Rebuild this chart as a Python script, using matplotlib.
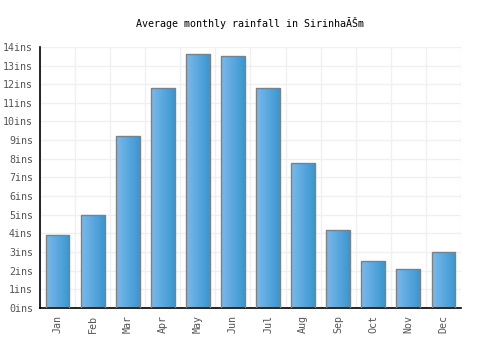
import matplotlib
matplotlib.use("Agg")
import matplotlib.pyplot as plt
import numpy as np
from matplotlib.colors import LinearSegmentedColormap

months = ["Jan", "Feb", "Mar", "Apr", "May", "Jun", "Jul", "Aug", "Sep", "Oct", "Nov", "Dec"]
rainfall = [3.9, 5.0, 9.2, 11.8, 13.6, 13.5, 11.8, 7.8, 4.2, 2.5, 2.1, 3.0]
yticks = list(range(0, 15))
ytick_labels = [f"{v}ins" for v in yticks]
title = "Average monthly rainfall in SirinhaĂŠm"

plt.rcParams['font.family'] = ['DejaVu Sans Mono']

fig = plt.figure(figsize=(5, 3.5), dpi=100)
ax = fig.add_axes([0.08, 0.12, 0.842, 0.746])

x = np.arange(len(months))
bw = 0.68
bars = ax.bar(x, rainfall, width=bw, color='none', edgecolor='#808080', linewidth=1.0, zorder=3)

cmap = LinearSegmentedColormap.from_list("g", ["#7ab9ec", "#3a97d0"])
grad = np.linspace(0, 1, 64).reshape(1, -1)
for b in bars:
    x0, y0 = b.get_x(), b.get_y()
    w, h = b.get_width(), b.get_height()
    im = ax.imshow(grad, cmap=cmap, extent=[x0, x0 + w, y0, y0 + h], aspect='auto', zorder=2)
    im.set_clip_path(b)

ax.set_xlim(-0.5, len(months) - 0.5)
ax.set_ylim(0, 14)
ax.set_xticks(x)
ax.set_xticklabels(months, rotation=90, fontsize=7.2, color='#555555')
ax.set_yticks(yticks)
ax.set_yticklabels(ytick_labels, fontsize=7.2, color='#555555')
ax.set_xticks(np.arange(-0.5, len(months) + 0.5, 1), minor=True)
ax.grid(which='minor', axis='x', color='#f0f0f0', linewidth=1, zorder=0)
ax.grid(which='major', axis='y', color='#f0f0f0', linewidth=1, zorder=0)
ax.tick_params(axis='both', which='both', length=0, pad=5)
for s in ['top', 'right']:
    ax.spines[s].set_visible(False)
ax.spines['left'].set_color('black')
ax.spines['bottom'].set_color('black')
ax.spines['left'].set_linewidth(1.2)
ax.spines['bottom'].set_linewidth(1.2)
ax.set_axisbelow(True)

fig.text(0.5, 0.934, title, ha='center', va='center', fontsize=7.2, color='black')

fig.savefig("out.png", dpi=100)
